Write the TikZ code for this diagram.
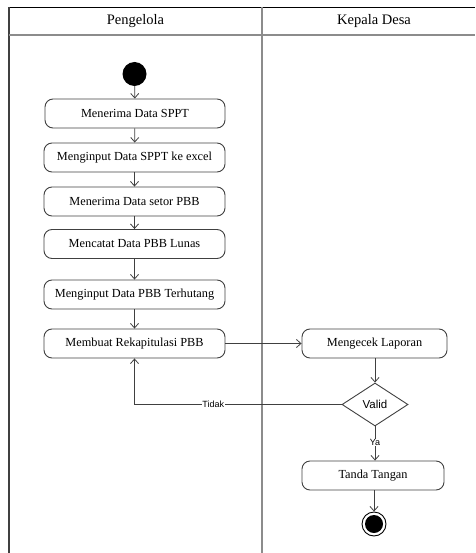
\documentclass[tikz,border=0pt]{standalone}
\usepackage{fontspec}
\setmainfont{Liberation Serif}
\newfontfamily\lsans{Liberation Sans}
\usetikzlibrary{arrows.meta,shapes.geometric}
\definecolor{edgegray}{HTML}{404040}
\definecolor{lanegray}{HTML}{8C8C8C}
\tikzset{
  act/.style={draw=edgegray, line width=0.9pt, rounded corners=8pt, minimum height=29pt, inner sep=0pt, font=\fontsize{12.3}{14}\selectfont, text=black},
  flow/.style={draw=edgegray, line width=0.8pt, -{Straight Barb[length=4.5pt,width=8pt,line width=0.8pt]}},
  lbl/.style={font=\lsans\fontsize{9}{10}\selectfont, fill=white, inner sep=0.5pt, text=black},
  lanehead/.style={font=\fontsize{14.5}{16}\selectfont, text=black}
}
\begin{document}
\begin{tikzpicture}[x=1pt,y=-1pt]
\useasboundingbox (0,0) rectangle (475,553);
% swimlane frame
\draw[black, line width=1.5pt] (9,7.5) -- (475,7.5);
\draw[edgegray, line width=1.5pt] (9,7) -- (9,553);
\draw[lanegray, line width=2pt] (262,7) -- (262,553);
\draw[lanegray, line width=1.5pt] (9,35) -- (475,35);
\node[lanehead] (h1) at (135.5,21.5) {Pengelola};
\node[lanehead] (h2) at (374,21.5) {Kepala Desa};
% nodes
\node[circle, fill=black, minimum size=24pt, inner sep=0pt] (start) at (134.5,74) {};
\node[act, minimum width=180pt] (b1) at (135,113.5) {Menerima Data SPPT};
\node[act, minimum width=181pt] (b2) at (134.5,157.5) {Menginput Data SPPT ke excel};
\node[act, minimum width=181pt] (b3) at (134.5,201.5) {Menerima Data setor PBB};
\node[act, minimum width=181pt] (b4) at (134.5,244) {Mencatat Data PBB Lunas};
\node[act, minimum width=181pt] (b5) at (134.5,294.5) {Menginput Data PBB Terhutang};
\node[act, minimum width=181pt] (b6) at (134.5,343.5) {Membuat Rekapitulasi PBB};
\node[act, minimum width=145pt] (m) at (374.5,343.5) {Mengecek Laporan};
\node[diamond, draw=edgegray, line width=0.9pt, minimum width=66pt, minimum height=43pt, inner sep=0pt, font=\lsans\fontsize{11.5}{12}\selectfont] (v) at (375,404.5) {Valid};
\node[act, minimum width=142pt] (t) at (373,475.5) {Tanda Tangan};
\node[circle, draw=black, line width=0.9pt, minimum size=24pt, inner sep=0pt] (end) at (374,524) {};
\fill[black] (end.center) circle (9pt);
% connectors
\draw[flow] (start) -- (b1);
\draw[flow] (b1) -- (b2);
\draw[flow] (b2) -- (b3);
\draw[flow] (b3) -- (b4);
\draw[flow] (b4) -- (b5);
\draw[flow] (b5) -- (b6);
\draw[flow] (b6) -- (m);
\draw[flow] (m.south -| v.north) -- (v.north);
\draw[flow] (v.south) -- node[lbl, pos=0.47] {Ya} (t.north -| v.south);
\draw[flow] (v.west) -- node[lbl, pos=0.62] {Tidak} (b6.south |- v.west) -- (b6.south);
\draw[flow] (t.south -| end.north) -- (end.north);
\end{tikzpicture}
\end{document}
